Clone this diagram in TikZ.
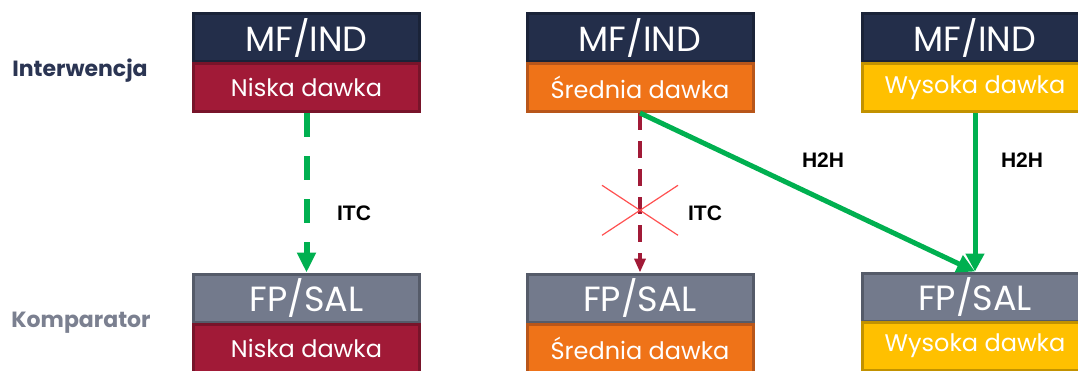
\documentclass[tikz,border=0pt]{standalone}
\usepackage{fontspec}
\setmainfont{Poppins}
\newfontfamily\arialfont{Liberation Sans}
\usetikzlibrary{arrows.meta,calc}
\definecolor{navy}{HTML}{232E4A}
\definecolor{navyb}{HTML}{1A2338}
\definecolor{crim}{HTML}{A11A37}
\definecolor{crimb}{HTML}{78142A}
\definecolor{oran}{HTML}{EF7318}
\definecolor{oranb}{HTML}{B8561A}
\definecolor{yell}{HTML}{FFC000}
\definecolor{yellb}{HTML}{C29200}
\definecolor{gry}{HTML}{737A8C}
\definecolor{gryb}{HTML}{555B69}
\definecolor{grn}{HTML}{00B050}
\definecolor{lbl}{HTML}{2B3553}
\definecolor{lblg}{HTML}{7B8090}
\definecolor{xred}{HTML}{FF5050}
\tikzset{
  head/.style={draw, line width=3pt, minimum width=226pt, minimum height=48pt, inner sep=0pt, text=white, font=\fontsize{35}{38}\selectfont},
  dose/.style={draw, line width=3pt, minimum width=226pt, minimum height=48pt, inner sep=0pt, text=white, font=\fontsize{24}{28}\selectfont},
  rowlbl/.style={font=\bfseries\fontsize{22}{26}\selectfont, anchor=center},
  lnk/.style={font=\arialfont\bfseries\fontsize{21}{24}\selectfont, text=black},
  gdash/.style={grn, line width=6pt, dash pattern=on 24pt off 19pt, -{Triangle[length=20pt,width=18pt]}},
  gsolid/.style={grn, line width=5pt, -{Triangle[length=18pt,width=18pt]}},
  cdash/.style={crim, line width=4pt, dash pattern=on 17pt off 11pt, -{Triangle[length=14pt,width=11pt]}},
}
\begin{document}
\begin{tikzpicture}[x=1pt,y=-1pt]
\useasboundingbox (0,0) rectangle (1078,370);
\clip (0,0) rectangle (1078,370);
% top row
\node[head, fill=navy, draw=navyb] (t1h) at (306.5,37.5) {MF/IND};
\node[dose, fill=crim, draw=crimb] (t1l) at (306.5,87.5) {Niska dawka};
\node[head, fill=navy, draw=navyb] (t2h) at (640,37.5) {MF/IND};
\node[dose, fill=oran, draw=oranb] (t2l) at (640,87.5) {Średnia dawka};
\node[head, fill=navy, draw=navyb] (t3h) at (975,37.5) {MF/IND};
\node[dose, fill=yell, draw=yellb] (t3l) at (975,87.5) {Wysoka dawka};
% bottom row
\node[head, fill=gry, draw=gryb] (b1h) at (306.5,298) {FP/SAL};
\node[dose, fill=crim, draw=crimb] (b1l) at (306.5,348) {Niska dawka};
\node[head, fill=gry, draw=gryb] (b2h) at (640,298) {FP/SAL};
\node[dose, fill=oran, draw=oranb] (b2l) at (640,348) {Średnia dawka};
\node[head, fill=gry, draw=gryb] (b3h) at (975,297) {FP/SAL};
\node[dose, fill=yell, draw=yellb] (b3l) at (975,346) {Wysoka dawka};
% row labels
\node[rowlbl, text=lbl] (lint) at (80,71) {Interwencja};
\node[rowlbl, text=lblg] (lkom) at (81,323) {Komparator};
% connectors
\draw[gdash] (t1l.south) -- (b1h.north);
\draw[cdash] (t2l.south) -- (b2h.north);
\path (t2l.south) -- (b2h.north) coordinate[pos=0.61] (xc);
\draw[xred, line width=1.2pt] ($(xc)+(-38,-25)$) -- ($(xc)+(38,25)$);
\draw[xred, line width=1.2pt] ($(xc)+(-38,25)$) -- ($(xc)+(38,-25)$);
\draw[gsolid] (t2l.south) -- (b3h.north);
\draw[gsolid] (t3l.south) -- (b3h.north);
% link labels
\node[lnk] (itc1) at (354,213) {ITC};
\node[lnk] (itc2) at (705,213) {ITC};
\node[lnk] (h2h1) at (823,160) {H2H};
\node[lnk] (h2h2) at (1022,160) {H2H};
\end{tikzpicture}
\end{document}
